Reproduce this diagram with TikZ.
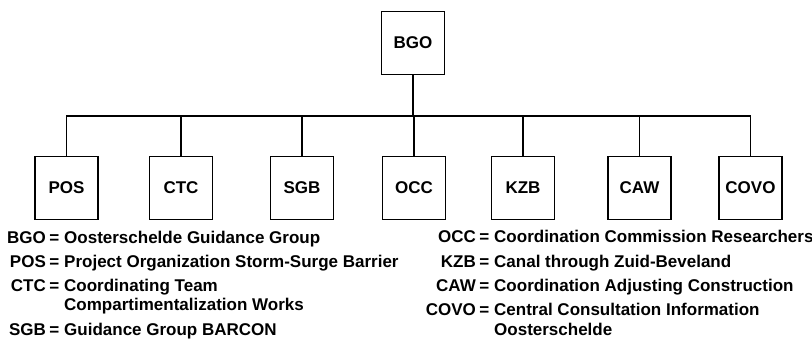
\documentclass[tikz,border=0pt]{standalone}
\usepackage{fontspec}
\setmainfont{Liberation Sans}
\begin{document}
\begin{tikzpicture}[x=1pt,y=-1pt,
  orgbox/.style={draw,line width=1.2pt,rectangle,minimum width=63pt,minimum height=63pt,inner sep=0pt,font=\fontsize{17}{19}\selectfont\bfseries},
  link/.style={line width=1.2pt},
  abbr/.style={anchor=base east,inner sep=0pt,font=\fontsize{17}{19}\selectfont\bfseries},
  expl/.style={anchor=base west,inner sep=0pt,font=\fontsize{17}{19}\selectfont\bfseries}]
\useasboundingbox (0,0) rectangle (812,339);
\fill[white] (0,0) rectangle (812,339);
% boxes
\node[orgbox] (BGO) at (413,43) {BGO};
\node[orgbox] (POS) at (66.5,188) {POS};
\node[orgbox] (CTC) at (181,188) {CTC};
\node[orgbox] (SGB) at (302,188) {SGB};
\node[orgbox] (OCC) at (414,188) {OCC};
\node[orgbox] (KZB) at (523,188) {KZB};
\node[orgbox] (CAW) at (639.5,188) {CAW};
\node[orgbox] (COVO) at (750.5,188) {COVO};
% connectors
\coordinate (bar) at (413,116);
\draw[link] (BGO.south) -- (bar);
\draw[link] (POS.north) |- (bar) -| (COVO.north);
\foreach \n in {CTC,SGB,OCC,KZB,CAW}{\draw[link] (\n.north) -- (\n.north |- bar);}
% legend left
\node[abbr] (lBGO) at (59.5,244) {BGO\kern3.5pt=};
\node[expl] (tBGO) at (64,244) {Oosterschelde Guidance Group};
\node[abbr] (lPOS) at (59.5,268) {POS\kern3.5pt=};
\node[expl] (tPOS) at (64,268) {Project Organization Storm-Surge Barrier};
\node[abbr] (lCTC) at (59.5,292) {CTC\kern3.5pt=};
\node[expl] (tCTC) at (64,292) {Coordinating Team};
\node[expl] (tCTC2) at (64,311) {Compartimentalization Works};
\node[abbr] (lSGB) at (59.5,336) {SGB\kern3.5pt=};
\node[expl] (tSGB) at (64,336) {Guidance Group BARCON};
% legend right
\node[abbr] (lOCC) at (489.5,243) {OCC\kern3.5pt=};
\node[expl] (tOCC) at (494,243) {Coordination Commission Researchers};
\node[abbr] (lKZB) at (489.5,268) {KZB\kern3.5pt=};
\node[expl] (tKZB) at (494,268) {Canal through Zuid-Beveland};
\node[abbr] (lCAW) at (489.5,292) {CAW\kern3.5pt=};
\node[expl] (tCAW) at (494,292) {Coordination Adjusting Construction};
\node[abbr] (lCOVO) at (489.5,316) {COVO\kern3.5pt=};
\node[expl] (tCOVO) at (494,316) {Central Consultation Information};
\node[expl] (tCOVO2) at (494,336) {Oosterschelde};
\end{tikzpicture}
\end{document}
